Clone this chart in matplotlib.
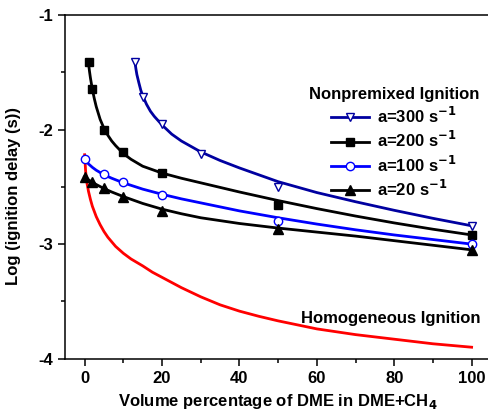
import numpy as np
import matplotlib
matplotlib.use("Agg")
import matplotlib.pyplot as plt
from matplotlib.ticker import MultipleLocator

plt.rcParams['font.family'] = ['Liberation Sans', 'DejaVu Sans']
plt.rcParams['font.weight'] = 'bold'
plt.rcParams['mathtext.default'] = 'bf'
plt.rcParams['axes.unicode_minus'] = False

# measured points (markers)
x300 = [13, 15, 20, 30, 50, 100]
y300 = [-1.41, -1.72, -1.95, -2.21, -2.50, -2.84]
x200 = [1, 2, 5, 10, 20, 50, 100]
y200 = [-1.41, -1.65, -2.00, -2.20, -2.38, -2.66, -2.92]
x100 = [0, 5, 10, 20, 50, 100]
y100 = [-2.26, -2.39, -2.46, -2.575, -2.80, -3.00]
x20 = [0, 2, 5, 10, 20, 50, 100]
y20 = [-2.41, -2.46, -2.51, -2.59, -2.71, -2.87, -3.05]

# fitted curves
fx300 = [13, 13.25, 13.5, 14, 14.5, 15, 16, 17, 18, 20, 22.5, 25, 30, 35, 40, 50, 60, 70, 80, 90, 100]
fy300 = [-1.41, -1.47, -1.52, -1.59, -1.655, -1.705, -1.78, -1.84, -1.885, -1.96, -2.04, -2.10,
         -2.195, -2.27, -2.335, -2.455, -2.55, -2.63, -2.705, -2.775, -2.84]
fx200 = [1, 1.25, 1.5, 2, 2.5, 3, 4, 5, 6, 7, 8, 10, 12, 15, 20, 25, 30, 40, 50, 60, 70, 80, 90, 100]
fy200 = [-1.42, -1.49, -1.55, -1.65, -1.73, -1.80, -1.91, -1.99, -2.05, -2.10, -2.14, -2.21, -2.26,
         -2.32, -2.38, -2.425, -2.465, -2.545, -2.62, -2.69, -2.755, -2.815, -2.87, -2.92]
fx100 = [0, 1, 2, 3, 5, 7, 10, 15, 20, 25, 30, 40, 50, 60, 70, 80, 90, 100]
fy100 = [-2.26, -2.30, -2.33, -2.355, -2.395, -2.425, -2.465, -2.52, -2.565, -2.605, -2.64, -2.71,
         -2.77, -2.825, -2.875, -2.92, -2.96, -3.00]
fx20 = [0, 1, 2, 3, 5, 7, 10, 15, 20, 25, 30, 40, 50, 60, 70, 80, 90, 100]
fy20 = [-2.41, -2.44, -2.46, -2.48, -2.515, -2.545, -2.585, -2.645, -2.695, -2.735, -2.77, -2.82,
        -2.86, -2.895, -2.93, -2.97, -3.01, -3.05]

# homogeneous ignition
hx = [0, 0.25, 0.5, 1, 1.5, 2, 3, 4, 5, 6, 7, 8, 9, 10, 12, 15, 17.5, 20, 25, 30, 35, 40, 45, 50,
      60, 70, 80, 90, 100]
hy = [-2.22, -2.36, -2.45, -2.54, -2.61, -2.67, -2.76, -2.83, -2.89, -2.94, -2.98, -3.02, -3.05,
      -3.08, -3.13, -3.19, -3.245, -3.29, -3.38, -3.46, -3.53, -3.585, -3.63, -3.67, -3.74, -3.79,
      -3.83, -3.87, -3.90]

navy = '#0000a0'
blue = '#0000ff'

fig = plt.figure(figsize=(4.89, 4.16), dpi=100)
ax = fig.add_axes([0.1335, 0.1378, 0.8705, 0.8262])

ax.plot(hx, hy, color='red', lw=2)

ax.plot(fx300, fy300, color=navy, lw=2)
ax.plot(fx200, fy200, color='black', lw=2)
ax.plot(fx100, fy100, color=blue, lw=2)
ax.plot(fx20, fy20, color='black', lw=2)

ax.plot(x300, y300, 'v', color=navy, mfc='white', mec=navy, ms=6, mew=1)
ax.plot(x200, y200, 's', color='black', ms=5.5)
ax.plot(x100, y100, 'o', color=blue, mfc='white', mec=blue, ms=6, mew=1)
ax.plot(x20, y20, '^', color='black', ms=6.5)

# legend handles
h1, = ax.plot([], [], '-v', color=navy, mfc='white', mec=navy, ms=6, mew=1, lw=2)
h2, = ax.plot([], [], '-s', color='black', ms=5.5, lw=2)
h3, = ax.plot([], [], '-o', color=blue, mfc='white', mec=blue, ms=6, mew=1, lw=2)
h4, = ax.plot([], [], '-^', color='black', ms=6.5, lw=2)
leg = ax.legend([h1, h2, h3, h4],
                ['a=300 s$^{-1}$', 'a=200 s$^{-1}$', 'a=100 s$^{-1}$', 'a=20 s$^{-1}$'],
                title='Nonpremixed Ignition', frameon=False, fontsize=12,
                title_fontproperties={'weight': 'bold', 'size': 12},
                loc='upper right', bbox_to_anchor=(0.972, 0.791),
                handlelength=2.3, handletextpad=0.45, labelspacing=0.25,
                borderpad=0, borderaxespad=0)

ax.text(0.975, 0.118, 'Homogeneous Ignition', transform=ax.transAxes,
        ha='right', va='center', fontsize=12, fontweight='bold')

ax.set_xlim(-5, 105)
ax.set_ylim(-4, -1)
ax.xaxis.set_major_locator(MultipleLocator(20))
ax.xaxis.set_minor_locator(MultipleLocator(10))
ax.yaxis.set_major_locator(MultipleLocator(1))
ax.yaxis.set_minor_locator(MultipleLocator(0.5))
ax.tick_params(which='major', direction='out', length=5, width=1.1, labelsize=12, pad=4)
ax.tick_params(which='minor', direction='out', length=3, width=1.1)
for s in ax.spines.values():
    s.set_linewidth(1.1)
ax.spines['right'].set_visible(False)

ax.set_xlabel('Volume percentage of DME in DME+CH$_4$', fontsize=12, fontweight='bold')
ax.set_ylabel('Log (ignition delay (s))', fontsize=12, fontweight='bold')
ax.yaxis.set_label_coords(-0.105, 0.473)

fig.savefig('out.png', dpi=100)
